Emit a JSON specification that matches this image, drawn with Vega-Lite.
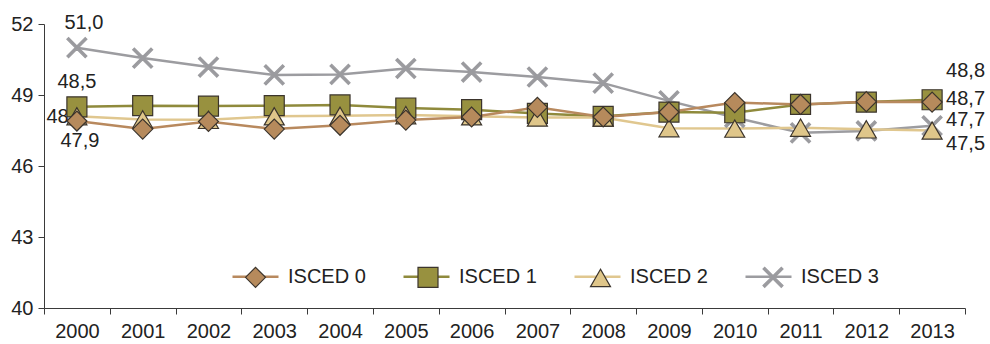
{
  "$schema": "https://vega.github.io/schema/vega-lite/v6.json",
  "width": 921,
  "height": 284,
  "autosize": {"type": "none"},
  "padding": {"left": 44, "top": 24, "right": 25, "bottom": 36},
  "background": "white",
  "config": {
    "view": {"stroke": null},
    "font": "Liberation Sans",
    "locale": {"number": {"decimal": ",", "thousands": ".", "grouping": [3], "currency": ["", " €"]}},
    "axis": {"labelFont": "Liberation Sans", "labelFontSize": 20, "labelColor": "#222222", "domainColor": "#3a3a3a", "tickColor": "#3a3a3a", "tickSize": 6, "grid": false, "title": null}
  },
  "data": {"values": [
    {"series": "ISCED 3", "year": "2000", "value": 51.0},
    {"series": "ISCED 3", "year": "2001", "value": 50.56},
    {"series": "ISCED 3", "year": "2002", "value": 50.18},
    {"series": "ISCED 3", "year": "2003", "value": 49.85},
    {"series": "ISCED 3", "year": "2004", "value": 49.87},
    {"series": "ISCED 3", "year": "2005", "value": 50.12},
    {"series": "ISCED 3", "year": "2006", "value": 49.97},
    {"series": "ISCED 3", "year": "2007", "value": 49.76},
    {"series": "ISCED 3", "year": "2008", "value": 49.5},
    {"series": "ISCED 3", "year": "2009", "value": 48.75},
    {"series": "ISCED 3", "year": "2010", "value": 48.05},
    {"series": "ISCED 3", "year": "2011", "value": 47.4},
    {"series": "ISCED 3", "year": "2012", "value": 47.48},
    {"series": "ISCED 3", "year": "2013", "value": 47.7},
    {"series": "ISCED 1", "year": "2000", "value": 48.5},
    {"series": "ISCED 1", "year": "2001", "value": 48.55},
    {"series": "ISCED 1", "year": "2002", "value": 48.53},
    {"series": "ISCED 1", "year": "2003", "value": 48.55},
    {"series": "ISCED 1", "year": "2004", "value": 48.58},
    {"series": "ISCED 1", "year": "2005", "value": 48.45},
    {"series": "ISCED 1", "year": "2006", "value": 48.38},
    {"series": "ISCED 1", "year": "2007", "value": 48.22},
    {"series": "ISCED 1", "year": "2008", "value": 48.1},
    {"series": "ISCED 1", "year": "2009", "value": 48.28},
    {"series": "ISCED 1", "year": "2010", "value": 48.25},
    {"series": "ISCED 1", "year": "2011", "value": 48.6},
    {"series": "ISCED 1", "year": "2012", "value": 48.7},
    {"series": "ISCED 1", "year": "2013", "value": 48.8},
    {"series": "ISCED 2", "year": "2000", "value": 48.1},
    {"series": "ISCED 2", "year": "2001", "value": 47.97},
    {"series": "ISCED 2", "year": "2002", "value": 47.95},
    {"series": "ISCED 2", "year": "2003", "value": 48.1},
    {"series": "ISCED 2", "year": "2004", "value": 48.12},
    {"series": "ISCED 2", "year": "2005", "value": 48.15},
    {"series": "ISCED 2", "year": "2006", "value": 48.1},
    {"series": "ISCED 2", "year": "2007", "value": 48.05},
    {"series": "ISCED 2", "year": "2008", "value": 48.05},
    {"series": "ISCED 2", "year": "2009", "value": 47.6},
    {"series": "ISCED 2", "year": "2010", "value": 47.58},
    {"series": "ISCED 2", "year": "2011", "value": 47.62},
    {"series": "ISCED 2", "year": "2012", "value": 47.55},
    {"series": "ISCED 2", "year": "2013", "value": 47.5},
    {"series": "ISCED 0", "year": "2000", "value": 47.9},
    {"series": "ISCED 0", "year": "2001", "value": 47.56},
    {"series": "ISCED 0", "year": "2002", "value": 47.88},
    {"series": "ISCED 0", "year": "2003", "value": 47.56},
    {"series": "ISCED 0", "year": "2004", "value": 47.72},
    {"series": "ISCED 0", "year": "2005", "value": 47.94},
    {"series": "ISCED 0", "year": "2006", "value": 48.07},
    {"series": "ISCED 0", "year": "2007", "value": 48.48},
    {"series": "ISCED 0", "year": "2008", "value": 48.07},
    {"series": "ISCED 0", "year": "2009", "value": 48.28},
    {"series": "ISCED 0", "year": "2010", "value": 48.68},
    {"series": "ISCED 0", "year": "2011", "value": 48.6},
    {"series": "ISCED 0", "year": "2012", "value": 48.72},
    {"series": "ISCED 0", "year": "2013", "value": 48.7}
  ]},
  "encoding": {
    "x": {"field": "year", "type": "ordinal", "scale": {"type": "band", "paddingInner": 0, "paddingOuter": 0},
      "axis": {"labelAngle": 0, "tickBand": "extent", "labelPadding": 7}},
    "y": {"field": "value", "type": "quantitative", "scale": {"domain": [40, 52], "zero": false, "nice": false},
      "axis": {"values": [40, 43, 46, 49, 52], "labelPadding": 5}}
  },
  "layer": [
    {
      "mark": {"type": "line", "strokeWidth": 2.5},
      "encoding": {
        "color": {"field": "series", "type": "nominal",
          "scale": {"domain": ["ISCED 0", "ISCED 1", "ISCED 2", "ISCED 3"], "range": ["#B8895E", "#8F8A3C", "#E0C78F", "#9C9CA0"]},
          "legend": {"orient": "none", "legendX": 187, "legendY": 228, "direction": "horizontal", "title": null, "padding": 0,
            "symbolType": "stroke", "symbolSize": 2116, "symbolStrokeWidth": 2.5, "labelOffset": 8, "columnPadding": 32,
            "labelFont": "Liberation Sans", "labelFontSize": 20, "labelColor": "#222222"}}
      }
    },
    {
      "transform": [{"filter": {"and": [{"field": "year", "equal": "2000"}, {"field": "series", "equal": "ISCED 2"}]}}],
      "mark": {"type": "text", "fontSize": 20, "color": "#222222", "baseline": "middle", "align": "center", "dx": -11, "dy": 1},
      "encoding": {"text": {"field": "value", "type": "quantitative", "format": ".1f"}}
    },
    {
      "mark": {"type": "point", "filled": true, "size": 400, "strokeWidth": 1.2, "opacity": 1},
      "encoding": {
        "shape": {"field": "series", "type": "nominal",
          "scale": {"range": ["diamond", "square", "triangle-up", "M0,-0.17L0.83,-1L1,-0.83L0.17,0L1,0.83L0.83,1L0,0.17L-0.83,1L-1,0.83L-0.17,0L-1,-0.83L-0.83,-1Z"]}},
        "fill": {"field": "series", "type": "nominal",
          "scale": {"range": ["#B68A5C", "#98913F", "#DFC68A", "#9B9B9F"]}},
        "stroke": {"field": "series", "type": "nominal",
          "scale": {"range": ["#3b342c", "#3b342c", "#3b342c", "#9B9B9F"]},
          "legend": {"orient": "none", "legendX": 200.5, "legendY": 242, "direction": "horizontal", "title": null, "padding": 0,
            "symbolSize": 400, "symbolStrokeWidth": 1.2, "labelOffset": 0, "columnPadding": 146.5, "labelExpr": "''",
            "labelFont": "Liberation Sans", "labelFontSize": 20, "labelColor": "#222222"}}
      }
    },
    {
      "transform": [{"filter": {"and": [{"field": "year", "equal": "2000"}, {"field": "series", "equal": "ISCED 3"}]}}],
      "mark": {"type": "text", "fontSize": 20, "color": "#222222", "baseline": "middle", "align": "center", "dx": 7, "dy": -25},
      "encoding": {"text": {"field": "value", "type": "quantitative", "format": ".1f"}}
    },
    {
      "transform": [{"filter": {"and": [{"field": "year", "equal": "2000"}, {"field": "series", "equal": "ISCED 1"}]}}],
      "mark": {"type": "text", "fontSize": 20, "color": "#222222", "baseline": "middle", "align": "center", "dx": 0, "dy": -25},
      "encoding": {"text": {"field": "value", "type": "quantitative", "format": ".1f"}}
    },
    {
      "transform": [{"filter": {"and": [{"field": "year", "equal": "2000"}, {"field": "series", "equal": "ISCED 0"}]}}],
      "mark": {"type": "text", "fontSize": 20, "color": "#222222", "baseline": "middle", "align": "center", "dx": 3, "dy": 20},
      "encoding": {"text": {"field": "value", "type": "quantitative", "format": ".1f"}}
    },
    {
      "transform": [{"filter": {"and": [{"field": "year", "equal": "2013"}, {"field": "series", "equal": "ISCED 1"}]}}],
      "mark": {"type": "text", "fontSize": 20, "color": "#222222", "baseline": "middle", "align": "left", "dx": 14, "dy": -29},
      "encoding": {"text": {"field": "value", "type": "quantitative", "format": ".1f"}}
    },
    {
      "transform": [{"filter": {"and": [{"field": "year", "equal": "2013"}, {"field": "series", "equal": "ISCED 0"}]}}],
      "mark": {"type": "text", "fontSize": 20, "color": "#222222", "baseline": "middle", "align": "left", "dx": 14, "dy": -3},
      "encoding": {"text": {"field": "value", "type": "quantitative", "format": ".1f"}}
    },
    {
      "transform": [{"filter": {"and": [{"field": "year", "equal": "2013"}, {"field": "series", "equal": "ISCED 3"}]}}],
      "mark": {"type": "text", "fontSize": 20, "color": "#222222", "baseline": "middle", "align": "left", "dx": 14, "dy": -6},
      "encoding": {"text": {"field": "value", "type": "quantitative", "format": ".1f"}}
    },
    {
      "transform": [{"filter": {"and": [{"field": "year", "equal": "2013"}, {"field": "series", "equal": "ISCED 2"}]}}],
      "mark": {"type": "text", "fontSize": 20, "color": "#222222", "baseline": "middle", "align": "left", "dx": 14, "dy": 13},
      "encoding": {"text": {"field": "value", "type": "quantitative", "format": ".1f"}}
    }
  ]
}
